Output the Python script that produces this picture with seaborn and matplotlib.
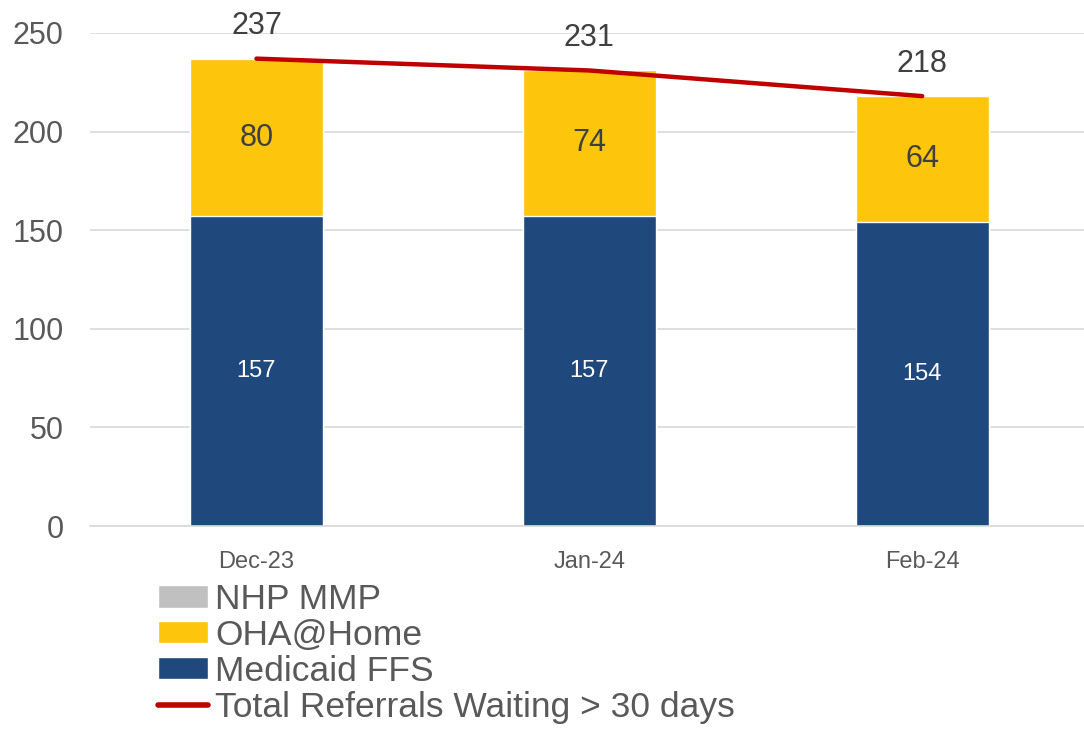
import matplotlib
matplotlib.use("Agg")
import matplotlib.pyplot as plt
from matplotlib.patches import Patch
from matplotlib.lines import Line2D
from matplotlib.ticker import FixedLocator
import numpy as np
import pandas as pd
import seaborn as sns

# data
months = ["Dec-23", "Jan-24", "Feb-24"]
medicaid_ffs = [157, 157, 154]
oha_home = [80, 74, 64]
nhp_mmp = [0, 0, 0]
total_waiting = [237, 231, 218]

BLUE = "#1F497D"
YELLOW = "#FDC50C"
GRAY = "#C0C0C0"
RED = "#C00000"
TEXT = "#595959"

sns.set_style("white")
plt.rcParams["font.family"] = ["Liberation Sans", "DejaVu Sans"]

df = pd.DataFrame({"Month": months, "FFS": medicaid_ffs, "OHA": oha_home,
                   "NHP": nhp_mmp, "Total": total_waiting})
df["stack_oha"] = df["FFS"] + df["OHA"]
df["stack_nhp"] = df["stack_oha"] + df["NHP"]

fig = plt.figure(figsize=(10.84, 7.29), dpi=100)
ax = fig.add_axes([90 / 1084, 1 - 526 / 729, (1084 - 90) / 1084, (526 - 33) / 729])

# stacked bars drawn as overlays (tallest first)
sns.barplot(data=df, x="Month", y="stack_nhp", color=GRAY, width=0.4, saturation=1, ax=ax)
sns.barplot(data=df, x="Month", y="stack_oha", color=YELLOW, width=0.4, saturation=1, ax=ax)
sns.barplot(data=df, x="Month", y="FFS", color=BLUE, width=0.4, saturation=1, ax=ax)

# total line
pos = np.arange(len(months))
sns.lineplot(x=pos, y=df["Total"], color=RED, linewidth=3.2, ax=ax,
             solid_capstyle="round", zorder=5)

# labels
for i in pos:
    ax.text(i, df["FFS"][i] / 2, str(df["FFS"][i]), ha="center", va="center",
            color="white", fontsize=17)
    ax.text(i, df["FFS"][i] + df["OHA"][i] / 2, str(df["OHA"][i]), ha="center",
            va="center", color="#404040", fontsize=22)
    ax.text(i, df["Total"][i] + 16.5, str(df["Total"][i]), ha="center",
            va="center", color="#404040", fontsize=22)

ax.set_ylim(0, 250)
ax.set_xlim(-0.5, 2.486)
ax.set_yticks(range(0, 251, 50))
ax.yaxis.grid(True, color="#D9D9D9", linewidth=1.2)
ax.set_axisbelow(True)
for s in ["top", "right", "left"]:
    ax.spines[s].set_visible(False)
ax.spines["bottom"].set_color("#D9D9D9")
ax.spines["bottom"].set_linewidth(1.2)
ax.set_xlabel("")
ax.set_ylabel("")
ax.tick_params(axis="y", length=0, pad=19, labelsize=22, labelcolor=TEXT)
ax.tick_params(axis="x", which="major", length=0, pad=18, labelsize=17, labelcolor=TEXT)
ax.xaxis.set_minor_locator(FixedLocator([-0.5, 0.5, 1.5]))
ax.tick_params(axis="x", which="minor", length=9, width=1.2, color="#D9D9D9")

handles = [
    Patch(facecolor=GRAY, label="NHP MMP"),
    Patch(facecolor=YELLOW, label="OHA@Home"),
    Patch(facecolor=BLUE, label="Medicaid FFS"),
    Line2D([0], [0], color=RED, linewidth=4, solid_capstyle="round",
           label="Total Referrals Waiting > 30 days"),
]
fig.legend(handles=handles, loc="upper left", bbox_to_anchor=(158 / 1084, 1 - 583 / 729),
           frameon=False, fontsize=25.5, handlelength=1.42, handleheight=0.58,
           handletextpad=0.2, labelspacing=0.08, borderpad=0, borderaxespad=0,
           labelcolor=TEXT)

fig.savefig("out.png", dpi=100)
